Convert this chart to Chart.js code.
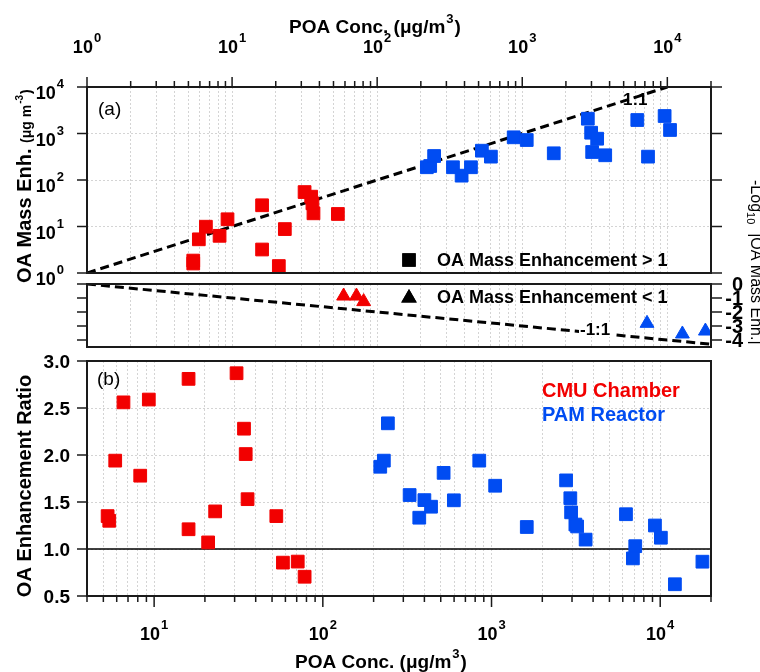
<!DOCTYPE html>
<html lang="en">
<head>
<meta charset="UTF-8">
<title>OA mass enhancement vs POA</title>
<style>
  body { margin: 0; background: #fff; }
  .wrap { position: relative; width: 760px; height: 672px; }
  .wrap canvas { position: absolute; left: 0; top: 0; }
</style>
<script src="https://cdn.jsdelivr.net/npm/chart.js"></script>
</head>
<body>
<div class="wrap">
  <canvas id="chartA" width="760" height="672"></canvas>
  <canvas id="chartM" width="760" height="672"></canvas>
  <canvas id="chartB" width="760" height="672"></canvas>
</div>
<script>
// panel (a): POA conc vs OA mass enhancement (> 1)
const cmuPoaA = [5.4, 5.4, 5.9, 6.6, 8.2, 9.3, 16.1, 16.1, 21, 23.1, 31.6, 35.1, 35.8, 36.4, 53.6];
const cmuEnhA = [1.85, 1.6, 5.3, 9.9, 6.3, 14.3, 28.6, 3.2, 1.41, 8.8, 55, 43.8, 31.5, 19.2, 18.6];
const pamPoaA = [220, 232, 247, 333, 382, 443, 527, 608, 873, 1074, 1649, 2832, 2985, 3284, 3034, 3732, 6209, 7360, 9580, 10440];
const pamEnhA = [188, 200, 328, 188, 124, 188, 427, 318, 828, 724, 375, 2080, 1040, 773, 400, 340, 1950, 318, 2378, 1190];

// middle strip: -log10 |enhancement| where enhancement < 1
const cmuPoaNeg = [58.7, 72, 80.7];
const cmuNegLog = [-0.86, -0.86, -1.26];
const pamPoaNeg = [7245, 12700, 18300];
const pamNegLog = [-2.81, -3.57, -3.36];

// panel (b): enhancement ratio
const cmuPoaB = [5.3, 5.42, 5.88, 6.58, 8.27, 9.3, 16, 16, 20.9, 23, 30.8, 34.1, 34.9, 35.8, 53, 58, 71, 78];
const cmuRatio = [1.35, 1.30, 1.94, 2.56, 1.78, 2.59, 2.81, 1.21, 1.07, 1.40, 2.87, 2.28, 2.01, 1.53, 1.35, 0.855, 0.866, 0.705];
const pamPoaB = [219, 230, 243, 327, 373, 400, 438, 520, 598, 846, 1051, 1618, 2767, 2932, 2963, 3141, 3216, 3613, 6266, 7112, 9305, 10090, 6887, 12220, 17790];
const pamRatio = [1.875, 1.94, 2.337, 1.574, 1.333, 1.52, 1.45, 1.81, 1.518, 1.94, 1.673, 1.234, 1.73, 1.54, 1.39, 1.26, 1.24, 1.10, 1.37, 1.03, 1.25, 1.12, 0.90, 0.625, 0.865];

// reference lines
const unityX = [1, 10000];
const unityY = [1, 10000];
const negUnityX = [1, 20000];
const negUnityY = [0, -4.301];
const ratioOneX = [4, 20000];
const ratioOneY = [1, 1];

// axes
const topXRange = [1, 20000];
const botXRange = [4, 20000];
const enhRange = [1, 10000];
const negRange = [-4.5, 0];
const ratioRange = [0.5, 3];
const topXTicks = [1, 10, 100, 1000, 10000];
const botXTicks = [10, 100, 1000, 10000];
const enhTicks = [1, 10, 100, 1000, 10000];
const negTicks = [0, -1, -2, -3, -4];
const ratioTicks = [0.5, 1.0, 1.5, 2.0, 2.5, 3.0];

const FONT = '"Liberation Sans", Arial, sans-serif';
const RED = '#F20000';
const BLUE = '#004CF2';
const AXIS = '#1a1a1a';
const GRID = '#d4d4d4';

const pts = (xs, ys) => xs.map((v, i) => ({ x: v, y: ys[i] }));
const isDecade = v => Math.abs(Math.log10(v) - Math.round(Math.log10(v))) < 1e-6;

function logGrid(min, max) {
  const out = [];
  for (let e = Math.floor(Math.log10(min)); e <= Math.ceil(Math.log10(max)); e++) {
    for (let m = 1; m <= 9; m++) {
      const v = m * Math.pow(10, e);
      if (v >= min * 0.999 && v <= max * 1.001) out.push(v);
    }
  }
  return out;
}

function line(ctx, x1, y1, x2, y2) {
  ctx.beginPath();
  ctx.moveTo(x1, y1);
  ctx.lineTo(x2, y2);
  ctx.stroke();
}

function setFont(ctx, r) {
  ctx.font = (r.w || 'bold') + ' ' + r.s + 'px ' + FONT;
}

function drawRuns(ctx, runs, x, y, align) {
  let total = 0;
  runs.forEach(r => { setFont(ctx, r); total += ctx.measureText(r.t).width + (r.gap || 0); });
  let cx = align === 'center' ? x - total / 2 : align === 'right' ? x - total : x;
  ctx.textAlign = 'left';
  ctx.textBaseline = 'alphabetic';
  runs.forEach(r => {
    setFont(ctx, r);
    cx += r.gap || 0;
    ctx.fillStyle = r.c || '#000';
    ctx.fillText(r.t, cx, y + (r.dy || 0));
    cx += ctx.measureText(r.t).width;
  });
}

const pow10 = v => [{ t: '10', s: 18 }, { t: String(Math.round(Math.log10(v))), s: 13, dy: -11, gap: 1 }];
const poaTitle = [{ t: 'POA Conc. (μg/m', s: 19 }, { t: '3', s: 13, dy: -10, gap: 1 }, { t: ')', s: 19, gap: 1 }];

function xLog(range) {
  return {
    type: 'logarithmic', min: range[0], max: range[1],
    afterBuildTicks: s => { s.ticks = logGrid(range[0], range[1]).map(v => ({ value: v })); },
    afterFit: s => { s.height = 0; },
    ticks: { display: false },
    grid: { color: GRID, lineWidth: 1, drawTicks: false },
    border: { display: false, dash: [2, 2] }
  };
}

function yAxis(type, range, ticks, showGrid) {
  return {
    type: type, min: range[0], max: range[1],
    afterBuildTicks: s => { s.ticks = ticks.map(v => ({ value: v })); },
    afterFit: s => { s.width = 0; },
    ticks: { display: false },
    grid: { display: showGrid, color: GRID, lineWidth: 1, drawTicks: false },
    border: { display: false, dash: [2, 2] }
  };
}

function options(top, bottom, xCfg, yCfg) {
  return {
    responsive: false,
    animation: false,
    events: [],
    layout: { padding: { left: 87, right: 49, top: top, bottom: bottom } },
    plugins: { legend: { display: false }, tooltip: { enabled: false } },
    scales: { x: xCfg, y: yCfg }
  };
}

function marks(data, color, style, radius) {
  return {
    data: data, showLine: false, pointStyle: style, pointRadius: radius, pointHoverRadius: radius,
    pointBackgroundColor: color, pointBorderColor: color, pointBorderWidth: 1
  };
}

function refLine(data, width, dash) {
  return { data: data, showLine: true, pointRadius: 0, borderColor: '#000', borderWidth: width, borderDash: dash };
}

function frame(ctx, a) {
  ctx.strokeStyle = AXIS;
  ctx.lineWidth = 2;
  ctx.strokeRect(a.left, a.top, a.right - a.left, a.bottom - a.top);
}

// ---- panel (a) ----
const panelA = {
  id: 'panelA',
  afterDraw(chart) {
    const { ctx, chartArea: a } = chart;
    const x = chart.scales.x, y = chart.scales.y;
    ctx.save();
    ctx.strokeStyle = AXIS;
    ctx.lineWidth = 1.5;
    logGrid(topXRange[0], topXRange[1]).forEach(v => {
      const px = x.getPixelForValue(v);
      line(ctx, px, a.top, px, a.top - (isDecade(v) ? 10 : 6));
    });
    enhTicks.forEach(v => {
      const py = y.getPixelForValue(v);
      line(ctx, a.left - 10, py, a.left, py);
      line(ctx, a.right, py, a.right + 11, py);
    });
    frame(ctx, a);

    topXTicks.forEach(v => drawRuns(ctx, pow10(v), x.getPixelForValue(v), 53, 'center'));
    enhTicks.forEach(v => drawRuns(ctx, pow10(v), 64, y.getPixelForValue(v) + 12, 'right'));
    drawRuns(ctx, poaTitle, 375, 33, 'center');

    ctx.save();
    ctx.translate(31, 283);
    ctx.rotate(-Math.PI / 2);
    drawRuns(ctx, [{ t: 'OA Mass Enh. ', s: 20 }, { t: '(μg m', s: 14 }, { t: '-3', s: 10, dy: -8, gap: 1 }, { t: ')', s: 14, gap: 1 }], 0, 0, 'left');
    ctx.restore();

    drawRuns(ctx, [{ t: '(a)', s: 19, w: 'normal' }], 98, 115, 'left');
    drawRuns(ctx, [{ t: '1:1', s: 17 }], 623, 105, 'left');

    ctx.fillStyle = '#000';
    Chart.helpers.drawPoint(ctx, { pointStyle: 'rect', radius: 9.5, borderWidth: 0 }, 409, 260);
    ctx.fill();
    drawRuns(ctx, [{ t: 'OA Mass Enhancement > 1', s: 18 }], 437, 266, 'left');
    ctx.restore();
  }
};

new Chart(document.getElementById('chartA'), {
  type: 'scatter',
  data: {
    datasets: [
      marks(pts(cmuPoaA, cmuEnhA), RED, 'rect', 9),
      marks(pts(pamPoaA, pamEnhA), BLUE, 'rect', 9),
      refLine(pts(unityX, unityY), 3, [9, 5])
    ]
  },
  options: options(87, 399, xLog(topXRange), yAxis('logarithmic', enhRange, enhTicks, true)),
  plugins: [panelA]
});

// ---- middle strip ----
const panelM = {
  id: 'panelM',
  afterDraw(chart) {
    const { ctx, chartArea: a } = chart;
    const y = chart.scales.y;
    ctx.save();
    ctx.strokeStyle = AXIS;
    ctx.lineWidth = 1.5;
    negTicks.forEach(v => {
      const py = y.getPixelForValue(v);
      line(ctx, a.left - 10, py, a.left, py);
      line(ctx, a.right, py, a.right + 11, py);
    });
    frame(ctx, a);

    ctx.textAlign = 'right';
    ctx.textBaseline = 'middle';
    ctx.fillStyle = '#000';
    ctx.font = 'bold 20px ' + FONT;
    negTicks.forEach(v => ctx.fillText(String(v), 743, y.getPixelForValue(v) + 1));

    ctx.fillStyle = '#000';
    Chart.helpers.drawPoint(ctx, { pointStyle: 'triangle', radius: 9, borderWidth: 0 }, 409, 298);
    ctx.fill();
    drawRuns(ctx, [{ t: 'OA Mass Enhancement < 1', s: 18 }], 437, 303, 'left');

    ctx.fillStyle = '#fff';
    ctx.fillRect(579, 322, 34, 15);
    drawRuns(ctx, [{ t: '-1:1', s: 17 }], 580, 335, 'left');

    ctx.save();
    ctx.translate(751, 180);
    ctx.rotate(Math.PI / 2);
    drawRuns(ctx, [
      { t: '-Log', s: 16, w: 'normal' },
      { t: '10', s: 11, w: 'normal', dy: 4 },
      { t: '  |OA Mass Enh.|', s: 16, w: 'normal' }
    ], 0, 0, 'left');
    ctx.restore();
    ctx.restore();
  }
};

new Chart(document.getElementById('chartM'), {
  type: 'scatter',
  data: {
    datasets: [
      marks(pts(cmuPoaNeg, cmuNegLog), RED, 'triangle', 8),
      marks(pts(pamPoaNeg, pamNegLog), BLUE, 'triangle', 8),
      refLine(pts(negUnityX, negUnityY), 3, [9, 5])
    ]
  },
  options: options(284, 325, xLog(topXRange), yAxis('linear', negRange, negTicks, false)),
  plugins: [panelM]
});

// ---- panel (b) ----
const panelB = {
  id: 'panelB',
  afterDraw(chart) {
    const { ctx, chartArea: a } = chart;
    const x = chart.scales.x, y = chart.scales.y;
    ctx.save();
    ctx.strokeStyle = AXIS;
    ctx.lineWidth = 1.5;
    logGrid(botXRange[0], botXRange[1]).forEach(v => {
      const px = x.getPixelForValue(v);
      line(ctx, px, a.bottom, px, a.bottom + (isDecade(v) ? 11 : 6));
    });
    ratioTicks.forEach(v => {
      const py = y.getPixelForValue(v);
      line(ctx, a.left - 10, py, a.left, py);
    });
    frame(ctx, a);

    ratioTicks.forEach(v => drawRuns(ctx, [{ t: v.toFixed(1), s: 19 }], 70, y.getPixelForValue(v) + 7, 'right'));
    botXTicks.forEach(v => drawRuns(ctx, pow10(v), x.getPixelForValue(v), 640, 'center'));
    drawRuns(ctx, poaTitle, 381, 668, 'center');

    ctx.save();
    ctx.translate(31, 486);
    ctx.rotate(-Math.PI / 2);
    drawRuns(ctx, [{ t: 'OA Enhancement Ratio', s: 20 }], 0, 0, 'center');
    ctx.restore();

    drawRuns(ctx, [{ t: '(b)', s: 19, w: 'normal' }], 97, 385, 'left');
    drawRuns(ctx, [{ t: 'CMU Chamber', s: 20, c: RED }], 542, 397, 'left');
    drawRuns(ctx, [{ t: 'PAM Reactor', s: 20, c: BLUE }], 542, 421, 'left');
    ctx.restore();
  }
};

new Chart(document.getElementById('chartB'), {
  type: 'scatter',
  data: {
    datasets: [
      marks(pts(cmuPoaB, cmuRatio), RED, 'rect', 9),
      marks(pts(pamPoaB, pamRatio), BLUE, 'rect', 9),
      refLine(pts(ratioOneX, ratioOneY), 1.5, [])
    ]
  },
  options: options(361, 76, xLog(botXRange), yAxis('linear', ratioRange, ratioTicks, true)),
  plugins: [panelB]
});
</script>
</body>
</html>
